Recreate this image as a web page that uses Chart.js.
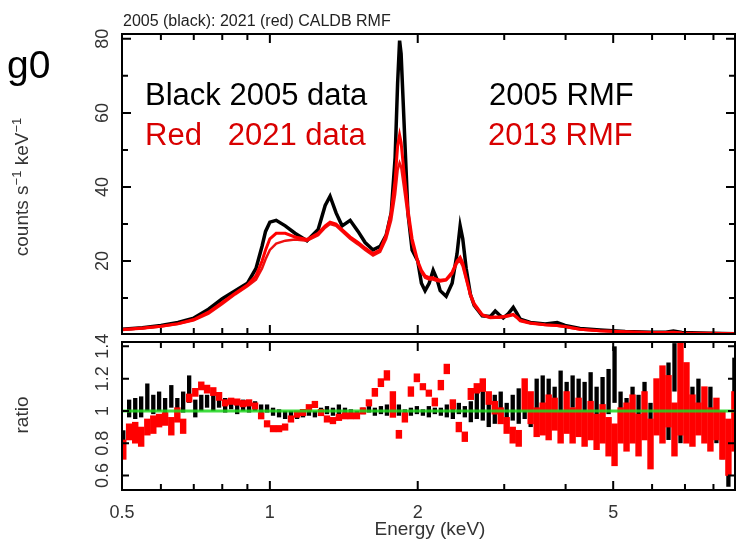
<!DOCTYPE html>
<html>
<head>
<meta charset="utf-8">
<script src="https://cdn.jsdelivr.net/npm/chart.js@4.4.1/dist/chart.umd.min.js"></script>
<style>
  body { margin: 0; background: #fff; }
  #wrap { position: relative; width: 736px; height: 542px; }
  canvas { position: absolute; left: 0; }
  #spec { top: 0; }
  #ratio { top: 317px; }
</style>
</head>
<body>
<div id="wrap">
  <canvas id="spec" width="736" height="337"></canvas>
  <canvas id="ratio" width="736" height="225"></canvas>
</div>
<script>
// Spectrum panel (counts/s/keV vs keV)
const specEnergy = [0.5, 0.55, 0.6, 0.65, 0.7, 0.75, 0.8, 0.85, 0.9, 0.937, 0.964, 0.98, 1.0,
  1.03, 1.075, 1.125, 1.19, 1.254, 1.296, 1.326, 1.364, 1.403, 1.457, 1.512, 1.563, 1.622,
  1.677, 1.725, 1.766, 1.799, 1.82, 1.837, 1.85, 1.875, 1.91, 1.948, 2.0, 2.035, 2.07, 2.11,
  2.15, 2.19, 2.222, 2.285, 2.35, 2.405, 2.44, 2.47, 2.51, 2.56, 2.606, 2.706, 2.81, 2.876,
  2.93, 2.986, 3.06, 3.13, 3.18, 3.233, 3.39, 3.635, 3.845, 3.99, 4.28, 4.7, 5.29, 5.95, 6.4,
  6.63, 6.9, 7.88, 8.85];
const black2005 = [1.6, 2.0, 2.6, 3.4, 4.6, 7.0, 9.8, 12.0, 14.0, 18, 24, 28, 30.5,
  31, 29.5, 27.5, 25.5, 28.5, 35, 37.5, 33, 29.5, 31, 28, 25, 23,
  24, 27, 33, 48, 68, 79.5, 76, 58, 33, 23, 20, 14, 12, 14,
  17.5, 15, 12, 10.5, 14, 22, 29.5, 26, 18, 11, 8, 5.2, 5, 6.5,
  5.5, 4.6, 5.8, 7.5, 6, 4.3, 3.4, 3.0, 3.4, 2.6, 1.8, 1.4, 1.0, 0.8, 0.8,
  1.1, 0.7, 0.5, 0.4];
const red2021 = [1.5, 1.9, 2.4, 3.1, 4.2, 6.2, 8.8, 11.3, 13.5, 16, 20, 23, 26,
  27.5, 27.5, 26.5, 25.8, 27.5, 29.5, 30.5, 30, 28.5, 26.5, 25, 23.5, 22,
  23, 27, 33, 42, 51, 54, 52, 44, 34, 26, 20, 17.5, 16, 15.5,
  15.5, 15, 14.8, 15, 17, 20, 21, 19.5, 15.5, 11, 8.5, 5.5, 4.8, 4.9,
  4.9, 5, 5.3, 5.6, 4.9, 4, 3.3, 2.8, 2.6, 2.3, 1.6, 1.2, 0.9, 0.7, 0.7,
  0.8, 0.6, 0.5, 0.4];
const red2021b = [1.4, 1.8, 2.3, 3.0, 4.0, 5.8, 8.4, 11.0, 13.2, 15, 18, 20.5, 23,
  24.7, 25.5, 25.8, 25.5, 27, 29, 30, 29.5, 28, 26, 24.5, 23, 21.5,
  22.5, 26, 31, 38, 44.5, 46.5, 45.5, 40, 32, 25, 19.5, 17, 15.5, 15,
  15, 14.6, 14.5, 14.8, 16.5, 19.5, 20, 18.5, 15, 10.5, 8, 5.3, 4.6, 4.7,
  4.7, 4.8, 5.1, 5.4, 4.7, 3.8, 3.1, 2.7, 2.5, 2.2, 1.5, 1.1, 0.85, 0.65, 0.65,
  0.75, 0.55, 0.45, 0.35];

// Ratio panel (data / model), error bar ranges
const ratioEnergy = [0.503, 0.517, 0.532, 0.547, 0.563, 0.579, 0.595, 0.612, 0.630, 0.648,
  0.666, 0.685, 0.705, 0.725, 0.745, 0.767, 0.788, 0.811, 0.834, 0.858, 0.882, 0.907, 0.933,
  0.960, 0.987, 1.015, 1.044, 1.074, 1.104, 1.136, 1.168, 1.201, 1.235, 1.271, 1.307, 1.344,
  1.382, 1.422, 1.462, 1.504, 1.547, 1.591, 1.636, 1.683, 1.731, 1.780, 1.831, 1.883, 1.937,
  1.992, 2.049, 2.107, 2.167, 2.229, 2.292, 2.358, 2.425, 2.494, 2.565, 2.638, 2.713, 2.790,
  2.870, 2.951, 3.035, 3.122, 3.211, 3.302, 3.396, 3.493, 3.593, 3.695, 3.800, 3.908, 4.020,
  4.134, 4.252, 4.373, 4.498, 4.626, 4.757, 4.893, 5.032, 5.176, 5.323, 5.475, 5.631, 5.791,
  5.956, 6.126, 6.300, 6.480, 6.664, 6.854, 7.049, 7.250, 7.456, 7.669, 7.887, 8.112, 8.343,
  8.581, 8.825];
const blackLo = [0.72, 0.96, 0.95, 0.96, 1.00, 0.98, 1.00, 0.98, 1.02, 0.97, 0.99, 1.05, 0.96, 1.00, 1.02,
  1.00, 1.02, 0.99, 1.01, 0.98, 1.00, 0.99, 1.00, 0.98, 0.99,
  0.97, 0.96, 0.95, 0.96, 0.95, 0.96, 0.97, 0.96, 0.97, 0.98, 0.97, 0.98, 0.98, 0.97, 0.96, 0.98, 0.99, 0.97, 0.98, 0.97,
  0.98, 0.97, 0.95, 0.97, 0.98, 0.97, 0.96, 0.98, 0.97, 0.96, 0.95, 0.98, 0.96, 0.93, 0.95,
  0.94, 0.90, 0.92, 0.96, 0.90, 0.94, 0.92, 0.95, 0.90, 0.96,
  0.95, 0.98, 0.92, 1.00, 0.95, 1.02, 0.97, 0.94, 1.00, 0.96, 1.02, 0.98, 1.05,
  0.95, 0.90, 0.96, 0.92, 0.98, 0.88, 0.95, 0.90, 0.82, 1.12, 0.80, 0.85, 0.90, 0.88, 0.85, 0.92, 0.80, 0.70, 0.53, 0.90];
const blackHi = [0.88, 1.07, 1.08, 1.09, 1.17, 1.10, 1.12, 1.08, 1.16, 1.08, 1.12, 1.22, 1.07, 1.10, 1.10,
  1.10, 1.09, 1.08, 1.07, 1.06, 1.07, 1.05, 1.06, 1.04, 1.04,
  1.02, 1.01, 1.00, 1.00, 0.99, 1.01, 1.00, 1.00, 1.02, 1.03, 1.02, 1.04, 1.02, 1.01, 1.00, 1.02, 1.03, 1.02, 1.03, 1.04,
  1.03, 1.04, 1.01, 1.02, 1.03, 1.01, 1.03, 1.02, 1.02, 1.04, 1.02, 1.05, 1.03, 1.06, 1.12,
  1.15, 1.08, 1.10, 1.12, 1.05, 1.10, 1.14, 1.18, 1.06, 1.20,
  1.22, 1.20, 1.15, 1.25, 1.18, 1.22, 1.20, 1.18, 1.24, 1.15, 1.21, 1.26, 1.40,
  1.12, 1.08, 1.15, 1.10, 1.18, 1.05, 1.14, 1.20, 1.30, 1.42, 1.05, 1.10, 1.15, 1.20, 1.10, 1.15, 1.05, 0.95, 0.80, 1.33];
const redLo = [0.70, 0.82, 0.80, 0.78, 0.85, 0.86, 0.90, 0.91, 0.85, 0.93, 0.86, 1.055, 1.09, 1.13, 1.11,
  1.095, 1.065, 1.03, 1.04, 1.035, 1.025, 1.03, 1.01, 0.95, 0.90,
  0.87, 0.87, 0.88, 0.93, 0.96, 0.97, 1.00, 1.02, 0.97, 0.93, 0.92, 0.94, 0.95, 0.95, 0.95, 0.98, 1.03, 1.09, 1.15, 1.19,
  0.96, 0.83, 0.93, 1.09, 1.18, 1.13, 1.09, 1.03, 1.13, 1.23, 1.01, 0.87, 0.81, 1.07, 1.11,
  1.12, 1.04, 0.98, 0.92, 0.86, 0.80, 0.78, 1.00, 0.92, 0.84,
  0.85, 0.82, 0.88, 0.80, 0.86, 0.80, 0.84, 0.78, 0.82, 0.76, 0.80, 0.72, 0.66,
  0.80, 0.75, 0.80, 0.72, 0.82, 0.64, 0.85, 0.80, 0.90, 0.72, 0.85, 0.80, 0.78, 0.85, 0.80, 0.75, 0.82, 0.70, 0.60, 0.75];
const redHi = [0.82, 0.92, 0.93, 0.90, 0.95, 0.97, 0.98, 0.99, 0.96, 1.02, 0.95, 1.105, 1.14, 1.18, 1.16,
  1.145, 1.115, 1.07, 1.08, 1.075, 1.065, 1.07, 1.05, 0.99, 0.94,
  0.91, 0.91, 0.92, 0.97, 1.00, 1.01, 1.04, 1.06, 1.01, 0.97, 0.96, 0.98, 0.99, 0.99, 0.99, 1.02, 1.07, 1.14, 1.20, 1.25,
  1.12, 0.88, 0.99, 1.15, 1.23, 1.17, 1.13, 1.08, 1.19, 1.29, 1.07, 0.93, 0.87, 1.14, 1.17,
  1.20, 1.12, 1.06, 1.02, 0.96, 0.90, 0.88, 1.20, 1.12, 1.02,
  1.05, 1.10, 1.08, 1.00, 1.12, 1.02, 1.08, 1.00, 1.06, 0.98, 1.04, 0.96, 0.92,
  1.02, 1.05, 1.10, 0.98, 1.12, 0.95, 1.20, 1.28, 1.22, 1.05, 1.42, 1.30, 1.10, 1.05, 1.15, 1.02, 1.08, 1.00, 0.95, 1.12];

// axis ticks
const xMajor = [0.5, 1, 2, 5];
const xMinor = [0.6, 0.7, 0.8, 0.9, 3, 4, 6, 7, 8];
const specMajor = [20, 40, 60, 80];
const specMinor = [10, 30, 50, 70];
const ratioMajor = [0.6, 0.8, 1, 1.2, 1.4];

const X_MIN = 0.5, X_MAX = 8.85;

Chart.defaults.font.family = "'Liberation Sans', Arial, Helvetica, sans-serif";
Chart.defaults.color = '#333';

function points(xs, ys) {
    return xs.map((x, i) => ({ x: x, y: ys[i] }));
}

function ranges(xs, lo, hi) {
    return xs.map((x, i) => ({ x: x, y: [lo[i], hi[i]] }));
}

/**
 * Frame box with inward ticks on all four sides (PGPLOT look)
 */
function framePlugin(yMajor, yMinor, yMajorLen) {
    return {
        id: 'frame',
        afterDatasetsDraw(chart) {
            const { ctx, chartArea: a } = chart;
            const xs = chart.scales.x, ys = chart.scales.y;
            ctx.save();
            ctx.strokeStyle = '#000';
            ctx.lineWidth = 2;
            ctx.beginPath();
            const tickX = (v, len) => {
                const px = xs.getPixelForValue(v);
                ctx.moveTo(px, a.bottom); ctx.lineTo(px, a.bottom - len);
                ctx.moveTo(px, a.top); ctx.lineTo(px, a.top + len);
            };
            const tickY = (v, len) => {
                const py = ys.getPixelForValue(v);
                ctx.moveTo(a.left, py); ctx.lineTo(a.left + len, py);
                ctx.moveTo(a.right, py); ctx.lineTo(a.right - len, py);
            };
            xMajor.forEach(v => tickX(v, 9));
            xMinor.forEach(v => tickX(v, 6));
            yMajor.forEach(v => tickY(v, yMajorLen));
            yMinor.forEach(v => tickY(v, 6));
            ctx.stroke();
            ctx.strokeRect(a.left, a.top, a.right - a.left, a.bottom - a.top);
            ctx.restore();
        }
    };
}

function drawText(ctx, s, x, y, size, color, align) {
    ctx.font = size + "px 'Liberation Sans', Arial, sans-serif";
    ctx.fillStyle = color;
    ctx.textAlign = align || 'left';
    ctx.textBaseline = 'alphabetic';
    ctx.fillText(s, x, y);
}

const specText = {
    id: 'specText',
    afterDraw(chart) {
        const ctx = chart.ctx;
        ctx.save();
        drawText(ctx, '2005 (black): 2021 (red) CALDB RMF', 123, 26, 16, '#222');
        drawText(ctx, 'g0', 7, 78, 39, '#000');
        drawText(ctx, 'Black 2005 data', 145, 105, 31, '#000');
        drawText(ctx, 'Red   2021 data', 145, 145, 31, '#d80000');
        drawText(ctx, '2005 RMF', 489, 105, 31, '#000');
        drawText(ctx, '2013 RMF', 488, 145, 31, '#d80000');

        // rotated y title with superscripts
        ctx.translate(28, 187);
        ctx.rotate(-Math.PI / 2);
        const parts = [['counts s', 19, 0], ['\u22121', 13, -7], [' keV', 19, 0], ['\u22121', 13, -7]];
        let total = 0;
        parts.forEach(p => { ctx.font = p[1] + "px 'Liberation Sans', Arial, sans-serif"; total += ctx.measureText(p[0]).width; });
        let cx = -total / 2;
        ctx.fillStyle = '#333';
        ctx.textAlign = 'left';
        parts.forEach(p => {
            ctx.font = p[1] + "px 'Liberation Sans', Arial, sans-serif";
            ctx.fillText(p[0], cx, p[2]);
            cx += ctx.measureText(p[0]).width;
        });
        ctx.restore();
    }
};

const ratioText = {
    id: 'ratioText',
    afterDraw(chart) {
        const ctx = chart.ctx;
        ctx.save();
        drawText(ctx, 'Energy (keV)', 430, 218, 19, '#333', 'center');
        ctx.translate(28, 98);
        ctx.rotate(-Math.PI / 2);
        drawText(ctx, 'ratio', 0, 0, 19, '#333', 'center');
        ctx.restore();
    }
};

const hidden = { display: false, drawOnChartArea: false, drawTicks: false };

// fixed axis boxes so the two panels line up exactly
function fixY(s) {
    s.width = 122;
    s.paddingTop = 0;
    s.paddingBottom = 0;
}

// Spectrum chart
new Chart(document.getElementById('spec'), {
    type: 'line',
    data: {
        datasets: [
            { data: points(specEnergy, red2021), borderColor: '#ff0000', borderWidth: 3 },
            { data: points(specEnergy, red2021b), borderColor: '#ee1010', borderWidth: 2.5 },
            { data: points(specEnergy, black2005), borderColor: '#000', borderWidth: 3.5 }
        ]
    },
    options: {
        responsive: false,
        animation: false,
        events: [],
        layout: { padding: { top: 34, bottom: 3, left: 0, right: 1 } },
        elements: { point: { radius: 0 }, line: { tension: 0 } },
        plugins: { legend: { display: false }, tooltip: { enabled: false } },
        scales: {
            x: { type: 'logarithmic', min: X_MIN, max: X_MAX, display: false },
            y: {
                type: 'linear', min: 0.3, max: 81.3,
                grid: hidden, border: { display: false },
                afterBuildTicks: s => { s.ticks = specMajor.map(v => ({ value: v })); },
                afterFit: fixY,
                ticks: {
                    autoSkip: false, minRotation: 90, maxRotation: 90, crossAlign: 'center',
                    padding: 9, font: { size: 18 }, color: '#333'
                }
            }
        }
    },
    plugins: [framePlugin(specMajor, specMinor, 9), specText]
});

// Ratio chart
new Chart(document.getElementById('ratio'), {
    type: 'bar',
    data: {
        datasets: [
            {
                type: 'line', data: [{ x: X_MIN, y: 1 }, { x: X_MAX, y: 1 }],
                borderColor: 'rgba(30, 215, 30, 0.85)', borderWidth: 3, pointRadius: 0
            },
            {
                data: ranges(ratioEnergy, redLo, redHi), backgroundColor: '#ff0000',
                grouped: false, barPercentage: 1, categoryPercentage: 1
            },
            {
                data: ranges(ratioEnergy, blackLo, blackHi), backgroundColor: '#000',
                grouped: false, barPercentage: 0.75, categoryPercentage: 1
            }
        ]
    },
    options: {
        responsive: false,
        animation: false,
        events: [],
        layout: { padding: { top: 25, bottom: 0, left: 0, right: 1 } },
        plugins: { legend: { display: false }, tooltip: { enabled: false } },
        scales: {
            x: {
                type: 'logarithmic', min: X_MIN, max: X_MAX, offset: false,
                grid: hidden, border: { display: false },
                afterBuildTicks: s => { s.ticks = xMajor.map(v => ({ value: v })); },
                afterFit: s => { s.height = 52; s.paddingLeft = 0; s.paddingRight = 0; },
                ticks: {
                    autoSkip: false, maxRotation: 0, padding: 12,
                    font: { size: 18 }, color: '#333',
                    callback: v => String(v)
                }
            },
            y: {
                type: 'linear', min: 0.51, max: 1.427,
                grid: hidden, border: { display: false },
                afterBuildTicks: s => { s.ticks = ratioMajor.map(v => ({ value: v })); },
                afterFit: fixY,
                ticks: {
                    autoSkip: false, minRotation: 90, maxRotation: 90, crossAlign: 'center',
                    padding: 6.5, font: { size: 18 }, color: '#333',
                    callback: v => String(v)
                }
            }
        }
    },
    plugins: [framePlugin(ratioMajor, [], 7), ratioText]
});
</script>
</body>
</html>
